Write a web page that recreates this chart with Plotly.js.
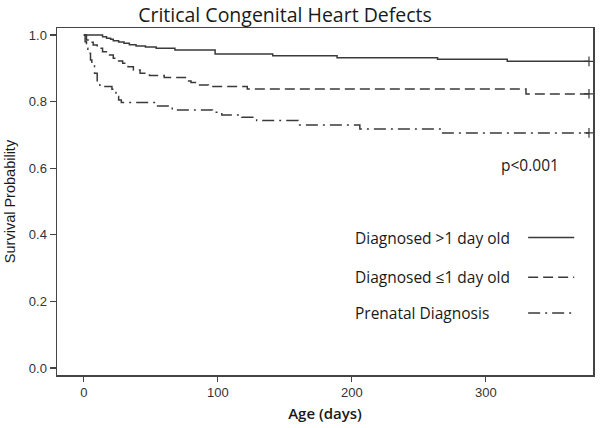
<!DOCTYPE html>
<html>
<head>
<meta charset="utf-8">
<script src="https://cdn.plot.ly/plotly-3.0.1.min.js"></script>
<style>html,body{margin:0;padding:0;background:#fff;}#chart{width:600px;height:428px;}</style>
</head>
<body>
<div id="chart"></div>
<script>
// Kaplan-Meier survival estimates
const daysOver1 = [0, 14, 17, 20, 22, 26, 30, 34, 39, 46, 54, 68, 98, 141, 189, 264, 316, 377];
const survOver1 = [1.0, 0.995, 0.99, 0.987, 0.983, 0.979, 0.975, 0.971, 0.967, 0.964, 0.96, 0.955, 0.943, 0.938, 0.932, 0.927, 0.921, 0.921];

const daysUnder1 = [0, 2, 4, 7, 10, 14, 18, 22, 26, 29, 33, 37, 42, 49, 60, 77, 80, 85, 93, 122, 330, 377];
const survUnder1 = [1.0, 0.985, 0.978, 0.97, 0.96, 0.95, 0.94, 0.93, 0.922, 0.915, 0.905, 0.895, 0.885, 0.878, 0.872, 0.862, 0.857, 0.85, 0.845, 0.838, 0.823, 0.823];

const daysPrenatal = [0, 1, 2, 3, 5, 6, 8, 10, 12, 21, 24, 26, 28, 54, 66, 96, 103, 118, 129, 160, 206, 267, 377];
const survPrenatal = [1.0, 0.98, 0.96, 0.945, 0.925, 0.91, 0.885, 0.855, 0.845, 0.837, 0.815, 0.805, 0.797, 0.787, 0.775, 0.768, 0.76, 0.753, 0.743, 0.73, 0.718, 0.706, 0.706];

const seriesNames = ['Diagnosed >1 day old', 'Diagnosed \u22641 day old', 'Prenatal Diagnosis'];
const seriesDash = ['solid', '10px,5px', '12px,5px,2px,5px'];
const xTicks = [0, 100, 200, 300];
const yTicks = [0.0, 0.2, 0.4, 0.6, 0.8, 1.0];
const yTickText = ['0.0', '0.2', '0.4', '0.6', '0.8', '1.0'];
const pText = 'p<0.001';

const lineColor = '#3a3a3a';
const allDays = [daysOver1, daysUnder1, daysPrenatal];
const allSurv = [survOver1, survUnder1, survPrenatal];

const traces = [];
allDays.forEach((d, i) => {
  traces.push({
    x: d, y: allSurv[i], type: 'scatter', mode: 'lines', name: seriesNames[i],
    line: {shape: 'hv', color: lineColor, width: 1.5, dash: seriesDash[i]},
    showlegend: false, hoverinfo: 'skip'
  });
  // censor mark at the end of follow-up
  traces.push({
    x: [d[d.length - 1]], y: [allSurv[i][allSurv[i].length - 1]], type: 'scatter', mode: 'markers',
    marker: {symbol: 'cross-thin', size: 7, line: {color: lineColor, width: 1.2}},
    showlegend: false, hoverinfo: 'skip'
  });
});

// legend (text left, line sample right)
const legY = [0.396, 0.282, 0.179];
const shapes = [];
const annotations = [];
const legFont = {family: 'Open Sans, sans-serif', size: 15.5, color: '#1a1a1a', weight: 500};
seriesNames.forEach((n, i) => {
  annotations.push({
    xref: 'paper', yref: 'paper', x: 0.552, y: legY[i], xanchor: 'left', yanchor: 'middle',
    text: n, showarrow: false, font: legFont
  });
  shapes.push({
    type: 'line', xref: 'paper', yref: 'paper', x0: 0.879, x1: 0.965, y0: legY[i], y1: legY[i],
    line: {color: lineColor, width: 1.5, dash: seriesDash[i]}
  });
});
annotations.push({
  xref: 'paper', yref: 'paper', x: 0.882, y: 0.605, xanchor: 'center', yanchor: 'middle',
  text: pText, showarrow: false, font: legFont
});

const layout = {
  width: 600, height: 428,
  margin: {l: 57, r: 7, t: 28, b: 53},
  paper_bgcolor: '#fff', plot_bgcolor: '#fff',
  title: {
    text: 'Critical Congenital Heart Defects',
    font: {family: 'Open Sans, sans-serif', size: 19.5, color: '#1a1a1a'},
    xref: 'container', yref: 'container', x: 0.475, xanchor: 'center', y: 0.965, yanchor: 'middle'
  },
  xaxis: {
    range: [-20, 380], tickvals: xTicks, ticks: 'outside', ticklen: 5, tickwidth: 1.3, tickcolor: '#444',
    showline: true, linecolor: '#444', linewidth: 1.5, mirror: true, showgrid: false, zeroline: false,
    tickfont: {family: 'Liberation Sans, Arial, sans-serif', size: 13, color: '#333'},
    title: {text: 'Age (days)', font: {family: 'Open Sans, sans-serif', size: 15, color: '#1a1a1a', weight: 600}, standoff: 9}
  },
  yaxis: {
    range: [-0.021, 1.021], tickvals: yTicks, ticktext: yTickText, ticks: 'outside', ticklen: 6, tickwidth: 1.3, tickcolor: '#444',
    showline: true, linecolor: '#444', linewidth: 1.5, mirror: true, showgrid: false, zeroline: false,
    tickfont: {family: 'Liberation Sans, Arial, sans-serif', size: 13, color: '#333'},
    title: {text: 'Survival Probability', font: {family: 'Liberation Sans, Arial, sans-serif', size: 14.5, color: '#1a1a1a'}, standoff: 9}
  },
  shapes: shapes,
  annotations: annotations
};

Plotly.newPlot('chart', traces, layout, {displayModeBar: false, staticPlot: true});
</script>
</body>
</html>
